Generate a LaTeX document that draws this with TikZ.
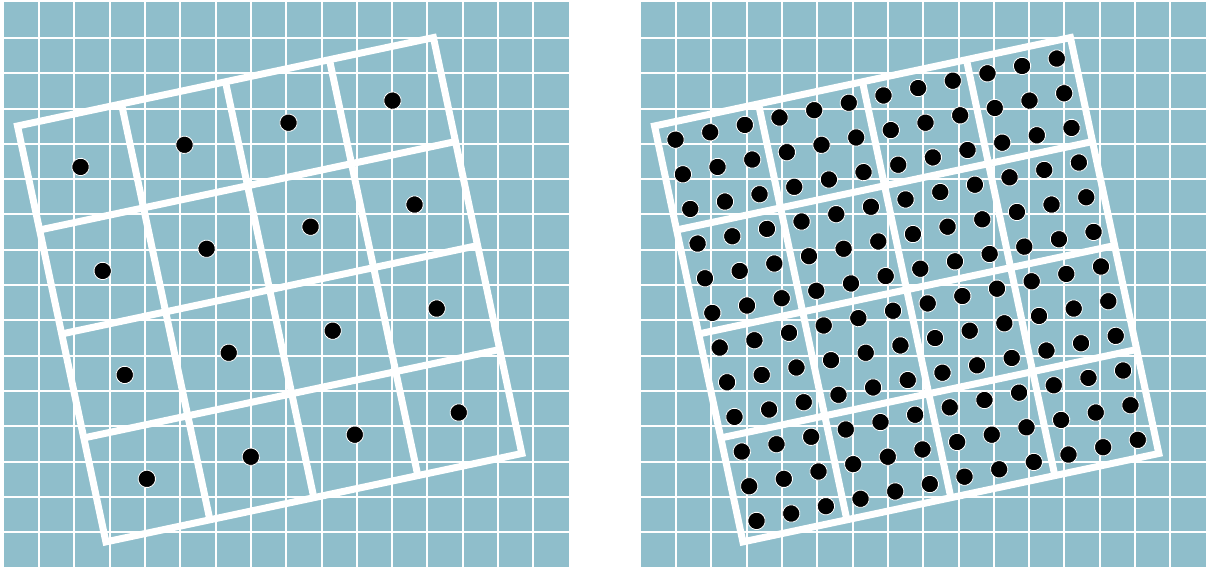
\documentclass[tikz,border=0pt]{standalone}
\usetikzlibrary{calc}
\definecolor{tilecol}{RGB}{143,190,203}
\begin{document}
\begin{tikzpicture}[x=1pt,y=1pt,
  bgline/.style={white, line width=2pt},
  frameline/.style={white, line width=7pt, line join=miter},
  sample/.style={fill=black, draw=white, line width=0.8pt}]
  \useasboundingbox (0,0) rectangle (1208,569);

  % background tiles, both panels
  \foreach \dx in {0,637} {
    \fill[tilecol] (3.8+\dx,1.5) rectangle (568.8+\dx,566.5);
    \foreach \k in {1,...,15} {
      \draw[bgline] ({3.8+\dx+35.3*\k},1.5) -- ++(0,565);
      \draw[bgline] (3.8+\dx,{1.5+35.3*\k}) -- ++(565,0);
    }
  }

  % left panel: one sample per cell
  \begin{scope}[shift={(17.5,443)}, rotate=12, scale=106.3]
    \foreach \i in {1,2,3} {
      \draw[frameline] (\i,0) -- (\i,-4);
      \draw[frameline] (0,-\i) -- (4,-\i);
    }
    \draw[frameline] (0,0) -- (4,0) -- (4,-4) -- (0,-4) -- cycle;
    \foreach \i in {0,...,3}
      \foreach \j in {0,...,3}
        \filldraw[sample] (\i+0.5,-\j-0.5) circle (0.0818);
  \end{scope}

  % right panel: 3x3 samples per cell
  \begin{scope}[shift={(654.5,443)}, rotate=12, scale=106.3]
    \foreach \i in {1,2,3} {
      \draw[frameline] (\i,0) -- (\i,-4);
      \draw[frameline] (0,-\i) -- (4,-\i);
    }
    \draw[frameline] (0,0) -- (4,0) -- (4,-4) -- (0,-4) -- cycle;
    \foreach \i in {0,...,11}
      \foreach \j in {0,...,11}
        \filldraw[sample] ({(\i+0.5)/3},{-(\j+0.5)/3}) circle (0.0818);
  \end{scope}
\end{tikzpicture}
\end{document}
